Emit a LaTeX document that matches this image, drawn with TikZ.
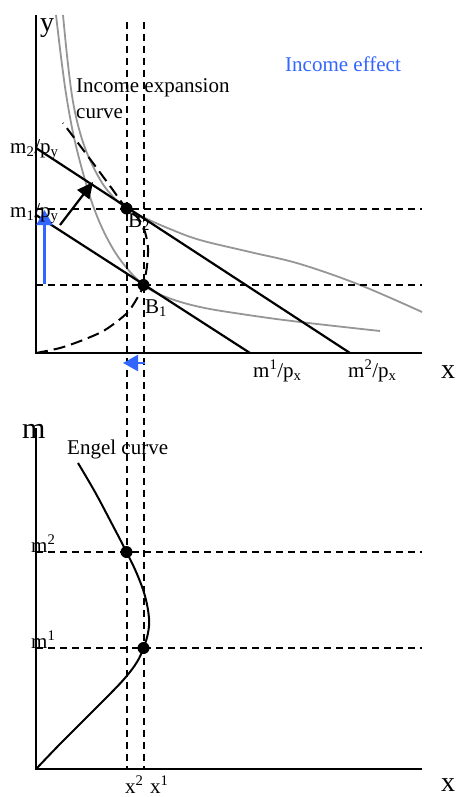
\documentclass[tikz,border=0pt]{standalone}
\usepackage{fontspec}
\setmainfont{Liberation Serif}
\usetikzlibrary{arrows.meta}
\definecolor{incblue}{RGB}{51,102,255}
\definecolor{icgray}{RGB}{150,150,150}
\begin{document}
\begin{tikzpicture}[x=1pt,y=-1pt,
 axis/.style={line width=2.2pt},
 budget/.style={line width=2.2pt},
 guide/.style={line width=2pt, dash pattern=on 7pt off 5pt},
 icurve/.style={icgray, line width=1.8pt},
 expcurve/.style={line width=2pt, dash pattern=on 12pt off 6pt},
 engel/.style={line width=2pt},
 dot/.style={circle, fill=black, inner sep=0pt, minimum size=12pt},
 lbl/.style={inner sep=0pt, anchor=base west, font=\fontsize{21}{25}\selectfont},
 big/.style={inner sep=0pt, anchor=base west, font=\fontsize{28}{30}\selectfont},
 barrow/.style={incblue, line width=2.4pt, -{Triangle[length=15pt,width=16pt]}},
 karrow/.style={line width=2.2pt, -{Triangle[length=16pt,width=15pt]}},
]
\useasboundingbox (0,0) rectangle (457,797);

% ---------- top graph ----------
\coordinate (O1) at (36,353);
\coordinate (Ytop) at (36,15);
\coordinate (X1end) at (422,353);
\draw[axis] (Ytop) -- (O1) -- (X1end);

% indifference curves
\draw[icurve] plot[smooth,tension=0.6] coordinates {(56,15) (61.4,60) (67,100) (74.6,140) (85,180) (94.6,210) (107,238) (121.9,262) (143.5,285) (166,297) (200,307) (248,315) (300,322) (380,331)};
\draw[icurve] plot[smooth,tension=0.6] coordinates {(63,15) (67.5,60) (72.7,100) (79.3,130) (87.8,155) (100.3,180) (111.5,195) (126.5,208.5) (145,218) (170,229) (200,240) (250,252) (300,264) (360,285) (422,312)};

% guide lines
\coordinate (v2top) at (126.5,22);
\coordinate (v2bot) at (126.5,769);
\coordinate (v1top) at (143.5,22);
\coordinate (v1bot) at (143.5,769);
\draw[guide] (v2top) -- (v2bot);
\draw[guide] (v1top) -- (v1bot);
\coordinate (h2a) at (36,209);
\coordinate (h2b) at (422,209);
\coordinate (h1a) at (36,285);
\coordinate (h1b) at (422,285);
\draw[guide] (h2a) -- (h2b);
\draw[guide] (h1a) -- (h1b);

% budget lines
\coordinate (m2y) at (36,148);
\coordinate (m2x) at (350,353);
\coordinate (m1y) at (36,215);
\coordinate (m1x) at (250,353);
\draw[budget] (m2y) -- (m2x);
\draw[budget] (m1y) -- (m1x);

% income expansion curve
\draw[expcurve] plot[smooth,tension=0.5] coordinates {(36,353) (60,348) (83,340) (105,330) (127,313) (139,295) (143.5,285) (147,266) (148,248) (145,232) (138,218) (126.5,208.5) (110,186) (90,159) (63,123)};

% arrows
\coordinate (ka0) at (60,225);
\coordinate (ka1) at (93,182);
\draw[karrow] (ka0) -- (ka1);
\coordinate (bv0) at (44.5,284);
\coordinate (bv1) at (44.5,210);
\draw[barrow] (bv0) -- (bv1);
\coordinate (bh0) at (145,363);
\coordinate (bh1) at (123,363);
\draw[barrow] (bh0) -- (bh1);

% points
\node[dot] (B2) at (126.5,208.5) {};
\node[dot] (B1) at (143.5,285) {};

% labels
\node[big] (ylab) at (40,32) {y};
\node[big] (xlab1) at (441,378) {x};
\node[lbl] (m2py) at (10,153) {m\textsubscript{2}/p\textsubscript{y}};
\node[lbl] (m1py) at (10,217) {m\textsubscript{1}/p\textsubscript{y}};
\node[lbl] (m1px) at (253,377) {m\textsuperscript{1}/p\textsubscript{x}};
\node[lbl] (m2px) at (348,377) {m\textsuperscript{2}/p\textsubscript{x}};
\node[lbl] (B1lab) at (145,313) {B\textsubscript{1}};
\node[lbl] (B2lab) at (128,227) {B\textsubscript{2}};
\node[lbl] (iec1) at (76,93) {Income expansion};
\node[lbl] (iec2) at (76,118) {curve};
\node[lbl, text=incblue] (ieff) at (285,72) {Income effect};

% ---------- bottom graph ----------
\coordinate (O2) at (36,769);
\coordinate (Mtop) at (36,428);
\coordinate (X2end) at (422,769);
\draw[axis] (Mtop) -- (O2) -- (X2end);

\coordinate (g2a) at (36,552);
\coordinate (g2b) at (422,552);
\coordinate (g1a) at (36,648);
\coordinate (g1b) at (422,648);
\draw[guide] (g2a) -- (g2b);
\draw[guide] (g1a) -- (g1b);

\draw[engel] plot[smooth,tension=0.6] coordinates {(78,463) (95,492) (112,524) (126.5,552) (137,574) (145,596) (149,618) (148,633) (143.5,648) (137,662) (125,678) (107,697) (83,721) (60,744) (37,768)};

\node[dot] (E2) at (126.5,552) {};
\node[dot] (E1) at (143.5,648) {};

\node[font=\fontsize{30}{32}\selectfont, inner sep=0pt, anchor=base west] (mlab) at (22,438) {m};
\node[big] (xlab2) at (441,791) {x};
\node[lbl] (engl) at (67,454) {Engel curve};
\node[lbl] (m2lab) at (31,552) {m\textsuperscript{2}};
\node[lbl] (m1lab) at (31,648) {m\textsuperscript{1}};
\node[lbl] (x2lab) at (125,793) {x\textsuperscript{2}};
\node[lbl] (x1lab) at (150,793) {x\textsuperscript{1}};
\end{tikzpicture}
\end{document}
